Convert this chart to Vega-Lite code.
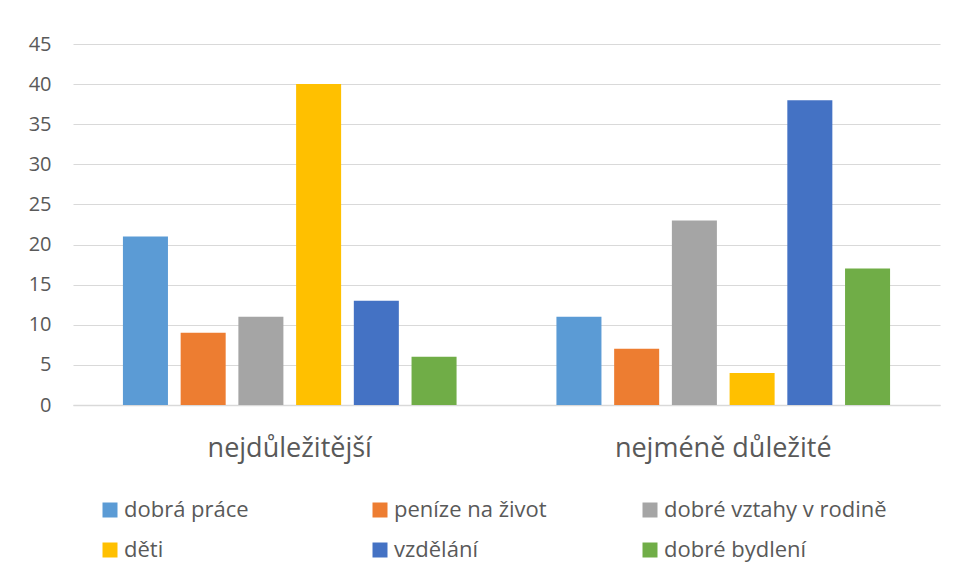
{
  "$schema": "https://vega.github.io/schema/vega-lite/v6.json",
  "autosize": {"type": "none"},
  "width": 867,
  "height": 361,
  "padding": {"left": 73, "top": 44, "right": 18, "bottom": 178},
  "background": "white",
  "config": {
    "font": "Open Sans",
    "view": {"stroke": null},
    "axis": {"labelColor": "#595959", "gridColor": "#d9d9d9", "domainColor": "#d9d9d9", "ticks": false, "title": null}
  },
  "data": {
    "values": [
      {"skupina": "nejdůležitější", "hodnota": "dobrá práce", "pocet": 21},
      {"skupina": "nejdůležitější", "hodnota": "peníze na život", "pocet": 9},
      {"skupina": "nejdůležitější", "hodnota": "dobré vztahy v rodině", "pocet": 11},
      {"skupina": "nejdůležitější", "hodnota": "děti", "pocet": 40},
      {"skupina": "nejdůležitější", "hodnota": "vzdělání", "pocet": 13},
      {"skupina": "nejdůležitější", "hodnota": "dobré bydlení", "pocet": 6},
      {"skupina": "nejméně důležité", "hodnota": "dobrá práce", "pocet": 11},
      {"skupina": "nejméně důležité", "hodnota": "peníze na život", "pocet": 7},
      {"skupina": "nejméně důležité", "hodnota": "dobré vztahy v rodině", "pocet": 23},
      {"skupina": "nejméně důležité", "hodnota": "děti", "pocet": 4},
      {"skupina": "nejméně důležité", "hodnota": "vzdělání", "pocet": 38},
      {"skupina": "nejméně důležité", "hodnota": "dobré bydlení", "pocet": 17}
    ]
  },
  "mark": {"type": "bar"},
  "encoding": {
    "x": {
      "field": "skupina", "type": "nominal", "sort": null,
      "scale": {"paddingInner": 0, "paddingOuter": 0},
      "axis": {"labelAngle": 0, "labelFontSize": 27, "labelPadding": 30, "labelLimit": 500, "grid": false, "domain": true, "domainWidth": 1.5}
    },
    "xOffset": {
      "field": "hodnota", "type": "nominal",
      "sort": ["dobrá práce", "peníze na život", "dobré vztahy v rodině", "děti", "vzdělání", "dobré bydlení"],
      "scale": {"paddingInner": 0.22, "paddingOuter": 0.865}
    },
    "y": {
      "field": "pocet", "type": "quantitative",
      "scale": {"domain": [0, 45]},
      "axis": {"values": [0, 5, 10, 15, 20, 25, 30, 35, 40, 45], "domain": false, "labelFontSize": 20, "labelPadding": 22, "gridWidth": 1.2}
    },
    "color": {
      "field": "hodnota", "type": "nominal",
      "scale": {
        "domain": ["dobrá práce", "peníze na život", "dobré vztahy v rodině", "děti", "vzdělání", "dobré bydlení"],
        "range": ["#5B9BD5", "#ED7D31", "#A5A5A5", "#FFC000", "#4472C4", "#70AD47"]
      },
      "legend": {
        "title": null, "orient": "none", "legendX": 26, "legendY": 455,
        "direction": "horizontal", "columns": 3, "gridAlign": "all",
        "columnPadding": 22, "rowPadding": 18,
        "symbolType": "square", "symbolSize": 225, "symbolStrokeWidth": 0,
        "labelFontSize": 22, "labelColor": "#595959", "labelOffset": 3, "labelLimit": 400
      }
    }
  }
}
